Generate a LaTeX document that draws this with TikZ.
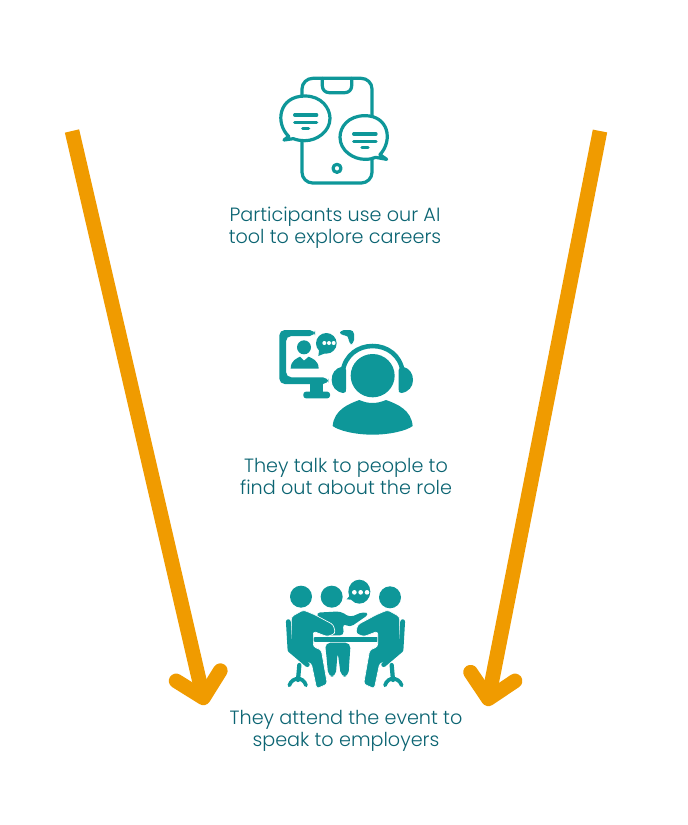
\documentclass[tikz,border=0pt]{standalone}
\usepackage{fontspec}
\setmainfont{Poppins Light}
\usetikzlibrary{arrows.meta}
\definecolor{iconteal}{HTML}{0E9799}
\definecolor{textteal}{HTML}{0B6472}
\definecolor{arroworange}{HTML}{F09B00}

\begin{document}
\begin{tikzpicture}[
    x=0.75pt, y=-0.75pt,
    caption/.style={font=\fontsize{14.4}{16.5}\selectfont, text=textteal, align=center, inner sep=0pt},
    bigarrow/.style={line width=11pt, draw=arroworange,
                     -{Straight Barb[round, length=17pt, width=34pt]}},
    thin/.style={draw=iconteal, line width=2.4pt, line cap=round, line join=round},
    solid/.style={fill=iconteal, draw=none},
    zoomed/.style={x=0.25pt, y=-0.25pt},
    cutout/.style={fill=iconteal, draw=white, line width=0.5pt, rounded corners=2pt},
]
\useasboundingbox (0,0) rectangle (688,825);

% ============== captions ==============
\node[caption] (toolcap) at (335,228) {Participants use our AI\\tool to explore careers};
\node[caption] (talkcap) at (346,476) {They talk to people to\\find out about the role};
\node[caption] (eventcap) at (346,731) {They attend the event to\\speak to employers};

% ============== arrows ==============
\coordinate (leftstart) at (72,131);
\coordinate (lefttip) at (205,705);
\coordinate (rightstart) at (600,131);
\coordinate (righttip) at (487,706);
\draw[bigarrow] (leftstart) -- (lefttip);
\draw[bigarrow] (rightstart) -- (righttip);

% ============== phone icon ==============
\begin{scope}[shift={(260,60)}, zoomed]
  \draw[thin, rounded corners=8pt] (126,369) rectangle (336,55);
  \draw[thin, rounded corners=5pt] (187,55) -- (187,98) -- (275,98) -- (275,55);
  \draw[thin] (231,325) circle[radius=12];
  % left bubble
  \draw[thin, fill=white] (86,229) .. controls (45,190) and (55,108) .. (135,108)
    .. controls (185,108) and (210,145) .. (210,175)
    .. controls (210,215) and (170,242) .. (135,242)
    .. controls (122,242) and (110,240) .. (100,236)
    -- (72,240) -- cycle;
  \draw[thin] (104,165) -- (170,165) (104,187) -- (170,187) (128,205) -- (146,205);
  % right bubble
  \draw[thin, fill=white] (360,284) .. controls (400,240) and (385,167) .. (315,167)
    .. controls (265,167) and (240,200) .. (240,232)
    .. controls (240,272) and (280,298) .. (315,298)
    .. controls (328,298) and (338,296) .. (347,292)
    -- (380,298) -- cycle;
  \draw[thin] (281,222) -- (348,222) (281,244) -- (348,244) (306,262) -- (324,262);
\end{scope}

% ============== headset icon ==============
\begin{scope}[shift={(260,320)}, zoomed]
  % monitor
  \path[solid, rounded corners=4pt] (58,30) -- (165,30) -- (165,48) -- (78,48)
    -- (78,172) -- (205,172) -- (205,192) -- (58,192) -- cycle;
  \path[solid] (150,190) rectangle (190,218);
  \path[solid, rounded corners=2pt] (130,215) rectangle (210,235);
  \path[solid, rounded corners=3pt] (240,30) -- (282,30) -- (282,72) -- (266,72)
    -- (266,46) -- (240,46) -- cycle;
  % person on screen
  \path[solid] (132,82) circle[radius=21];
  \path[solid] (92,146) .. controls (92,120) and (112,115) .. (120,110) -- (132,122) -- (146,110)
    .. controls (155,115) and (176,120) .. (176,146) -- cycle;
  % speech bubble
  \path[solid] (199,70) circle[radius=31];
  \path[solid] (178,85) -- (175,108) -- (200,98) -- cycle;
  \foreach \dotx in {193,207,221}
    \path[fill=white] (\dotx,69) circle[radius=6];
  % headset and person
  \path[solid] (338,167) ellipse[x radius=66, y radius=65];
  \draw[iconteal, line width=3.4pt] (248,155) .. controls (255,105) and (295,78) .. (338,78)
    .. controls (381,78) and (421,105) .. (428,155);
  \path[solid] (246,140) .. controls (225,145) and (215,160) .. (215,180)
    .. controls (215,200) and (228,216) .. (250,219) .. controls (258,219) and (258,214) .. (258,208)
    -- (258,150) .. controls (258,143) and (252,140) .. (246,140) -- cycle;
  \path[solid] (428,140) .. controls (449,145) and (459,160) .. (459,180)
    .. controls (459,200) and (446,216) .. (424,219) .. controls (416,219) and (416,214) .. (416,208)
    -- (416,150) .. controls (416,143) and (422,140) .. (428,140) -- cycle;
  \path[solid] (218,318) .. controls (222,270) and (265,252) .. (298,240)
    .. controls (325,252) and (350,252) .. (378,240)
    .. controls (412,252) and (454,270) .. (458,318)
    .. controls (440,332) and (390,344) .. (338,344)
    .. controls (286,344) and (236,332) .. (218,318) -- cycle;
\end{scope}

% ============== meeting icon ==============
\begin{scope}[shift={(270,570)}, zoomed]
  \path[solid] (93,80) circle[radius=33];
  \path[solid] (185,80) circle[radius=33];
  \path[solid] (360,82) circle[radius=33];
  % speech bubble
  \path[solid] (268,65) ellipse[x radius=33, y radius=36];
  \path[solid] (245,70) -- (230,88) -- (258,90) -- cycle;
  \foreach \dotx in {253,272,291}
    \path[fill=white] (\dotx,67) circle[radius=7];
  % middle person
  \path[solid, rounded corners=3pt] (138,128) -- (212,124) -- (240,142) -- (280,125)
    -- (298,132) -- (240,172) -- (218,160) -- (222,196) -- (165,196) -- cycle;
  \path[solid, rounded corners=4pt] (165,218) -- (242,218) -- (235,320) -- (213,320)
    -- (203,246) -- (197,320) -- (175,320) -- (168,245) -- cycle;
  % table
  \draw[iconteal, line width=3.8pt, line cap=round] (136,208) -- (320,208);
  % sitters and chairs
  \foreach \mirror/\off in {1/0, -1/453}{
    \begin{scope}[xshift=\off*0.25pt, x=\mirror*0.25pt]
      \path[cutout] (64,140) -- (100,120) -- (134,134) -- (190,164) -- (196,190) -- (172,200)
        -- (130,184) -- (130,230) -- (154,240) -- (172,342) -- (140,356) -- (124,280)
        -- (85,270) -- (64,250) -- cycle;
      \draw[iconteal, line width=3.6pt, line cap=round, line join=round]
        (55,155) -- (60,240) -- (112,284);
      \draw[iconteal, line width=3.2pt, line cap=round] (88,285) -- (84,330);
      \draw[iconteal, line width=2.8pt, line cap=round]
        (58,346) .. controls (62,332) and (75,326) .. (84,326) .. controls (93,326) and (104,332) .. (108,346);
    \end{scope}
  }
\end{scope}
\end{tikzpicture}
\end{document}
